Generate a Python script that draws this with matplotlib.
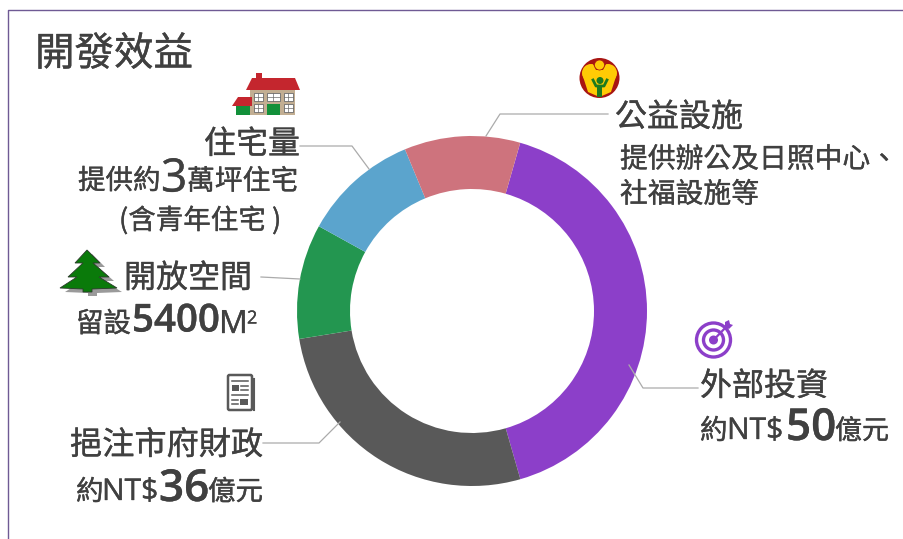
import matplotlib
matplotlib.use("Agg")
import matplotlib.pyplot as plt
import matplotlib.patheffects as pe
from matplotlib.patches import Polygon, Rectangle, Circle, FancyBboxPatch

W, H = 904, 539
plt.rcParams['font.family'] = ['Noto Sans CJK TC', 'DejaVu Sans']

categories = ['外部投資', '挹注市府財政', '開放空間', '住宅量', '公益設施']
shares = [41.1, 26.9, 10.6, 10.7, 10.7]
colors = ['#8C3FC9', '#595959', '#239650', '#5BA4CD', '#CE737D']
TXT = '#404040'

fig = plt.figure(figsize=(W / 100, H / 100), dpi=100, facecolor='white')

# donut
cx, cy, R, r = 472, 311, 175, 122
dax = fig.add_axes([(cx - R) / W, 1 - (cy + R) / H, 2 * R / W, 2 * R / H])
dax.pie(shares, colors=colors, startangle=74, counterclock=False, radius=1,
        wedgeprops=dict(width=1 - r / R, linewidth=0))
dax.set_xlim(-1, 1)
dax.set_ylim(-1, 1)
dax.set_axis_off()

# overlay in pixel coordinates
ax = fig.add_axes([0, 0, 1, 1], zorder=5)
ax.set_xlim(0, W)
ax.set_ylim(H, 0)
ax.set_axis_off()
ax.patch.set_alpha(0)

# frame
ax.plot([8, 8, 904], [539, 10, 10], color='#6F5A94', lw=1.0, solid_capstyle='butt')


def T(x, y, s, px, ha='left', fx=None, **kw):
    t = ax.text(x, y + 2.5, s, fontsize=px * 0.72, color=TXT, ha=ha, va='center', **kw)
    effects = [pe.withStroke(linewidth=0.25, foreground=TXT)]
    if fx:
        effects = [pe.SimpleLineShadow(offset=(1.2, -1.2), shadow_color='#777777', alpha=0.5),
                   pe.Stroke(linewidth=0.25, foreground=TXT), pe.Normal()]
    t.set_path_effects(effects)
    return t


NUM = 'Open Sans'

T(35, 52, '開發效益', 39.5)

T(300, 142, '住宅量', 32, ha='right')
T(78, 179, '提供約', 27.5)
T(161, 177, '3', 46, family=NUM, fx=True)
T(187, 179, '萬坪住宅', 27.8)
T(119, 218, '(含青年住宅 )', 27.5)

T(124, 276, '開放空間', 32)
T(76, 322, '留設', 27.5)
T(132, 319, '5400', 38.5, family=NUM, fx=True, fontweight='semibold')
T(219, 322, 'M', 32, family=NUM)
T(247, 316, '2', 18, family=NUM)

T(70, 443, '挹注市府財政', 32.2)
T(76, 490, '約', 27.5)
T(102, 490, 'NT$', 30, family=NUM)
T(159, 487, '36', 44, family=NUM, fx=True, fontweight='semibold')
T(208, 490, '億元', 27.5)

T(700, 384, '外部投資', 32)
T(700, 429, '約', 27.5)
T(727, 429, 'NT$', 30, family=NUM)
T(786, 426, '50', 44, family=NUM, fx=True, fontweight='semibold')
T(835, 429, '億元', 27)

T(615, 115, '公益設施', 32)
T(620, 157, '提供辦公及日照中心、', 27.8)
T(620, 192, '社福設施等', 27.8)

# leader lines
LEAD = '#ABABAB'
for xs, ys in [([300, 352, 369], [146, 146, 169]),
               ([261, 300], [277, 279]),
               ([263, 319, 340], [443, 443, 422]),
               ([698, 643, 629], [388, 388, 365]),
               ([608, 500, 486], [114, 114, 136])]:
    ax.plot(xs, ys, color=LEAD, lw=0.9, zorder=6)

# house icon
ax.add_patch(Rectangle((250, 90), 45, 25, fc='#C2AE92', ec='none'))
ax.add_patch(Rectangle((236, 106), 14, 9, fc='#12903A', ec='none'))
ax.add_patch(Polygon([(232, 106), (238, 97), (252, 97), (252, 106)], fc='#C4262E', ec='none'))
ax.add_patch(Polygon([(246, 90), (252, 78), (256, 78), (256, 73), (262, 73), (262, 78),
                      (295, 78), (300, 90)], fc='#C4262E', ec='none'))
ax.add_patch(Rectangle((267, 104), 13, 11, fc='#12903A', ec='none'))
for x0, y0, w in [(254, 93, 9), (267, 93, 13), (284, 93, 9), (254, 104, 9), (284, 104, 9)]:
    ax.add_patch(Rectangle((x0, y0), w, 8, fc='white', ec='#6b6b6b', lw=0.6))
    ax.plot([x0 + w / 2] * 2, [y0, y0 + 8], color='#6b6b6b', lw=0.5)
    ax.plot([x0, x0 + w], [y0 + 4] * 2, color='#6b6b6b', lw=0.5)

# tree icon
tree = [(87, 250), (100, 263), (93, 263), (109, 277), (99, 277), (117, 288), (92, 289), (92, 292),
        (83, 292), (83, 289), (60, 288), (77, 277), (68, 277), (83, 263), (75, 263)]
ax.add_patch(Polygon([(x + 5, y + 4) for x, y in tree], fc='#9A9A9A', ec='none'))
ax.add_patch(Polygon(tree, fc='#0A7A0A', ec='#2b3a2b', lw=0.6))

# newspaper icon
ax.add_patch(FancyBboxPatch((228, 375), 24, 35, boxstyle='round,pad=0,rounding_size=1.5',
                            fc='white', ec='#595959', lw=1.8))
ax.plot([254.5, 254.5], [379, 410], color='#595959', lw=1.5)
ax.add_patch(Rectangle((232, 385), 7, 6, fc='#595959', ec='none'))
ax.add_patch(Rectangle((240, 399), 8, 6, fc='#595959', ec='none'))
for x0, x1, y0 in [(232, 248, 381), (241, 248, 386), (241, 248, 390), (232, 248, 395), (232, 238, 400), (232, 238, 404)]:
    ax.plot([x0, x1], [y0, y0], color='#595959', lw=1.1)

# target icon
tc = (713.5, 340)
ax.add_patch(Circle(tc, 17, fc='none', ec='#8C3FC9', lw=2.4))
ax.add_patch(Circle(tc, 10, fc='none', ec='#8C3FC9', lw=2.4))
ax.add_patch(Circle(tc, 4.5, fc='#8C3FC9', ec='none'))
ax.plot([tc[0], 728], [tc[1], 325], color='#8C3FC9', lw=1.6)
ax.add_patch(Polygon([(725, 327), (725, 322), (729, 320), (730, 324), (733, 325), (729, 329)],
                     fc='#8C3FC9', ec='none'))

# welfare icon
ic = (599.5, 78)
ax.add_patch(Circle(ic, 20, fc='#A81512', ec='none'))
ax.add_patch(Circle((591, 73), 9, fc='#FFCB05', ec='none'))
ax.add_patch(Circle((608, 73), 9, fc='#FFCB05', ec='none'))
ax.add_patch(Polygon([(599.5, 97), (588, 92), (582.5, 75), (616.5, 75), (611, 92)], fc='#FFCB05', ec='none'))
ax.add_patch(Polygon([(592, 62), (607, 62), (603, 70), (596, 70)], fc='#A81512', ec='none'))
ax.add_patch(Circle((599.5, 65), 5, fc='#FFCB05', ec='#A81512', lw=0.5))
ax.add_patch(Circle((600, 80.5), 3.5, fc='#1E7A1E', ec='none'))
ax.add_patch(Rectangle((597.5, 85), 5, 12, fc='#1E7A1E', ec='none'))
ax.plot([593, 596, 604, 607], [80, 86, 86, 80], color='#1E7A1E', lw=2)

fig.savefig('out.png', dpi=100, facecolor='white')
